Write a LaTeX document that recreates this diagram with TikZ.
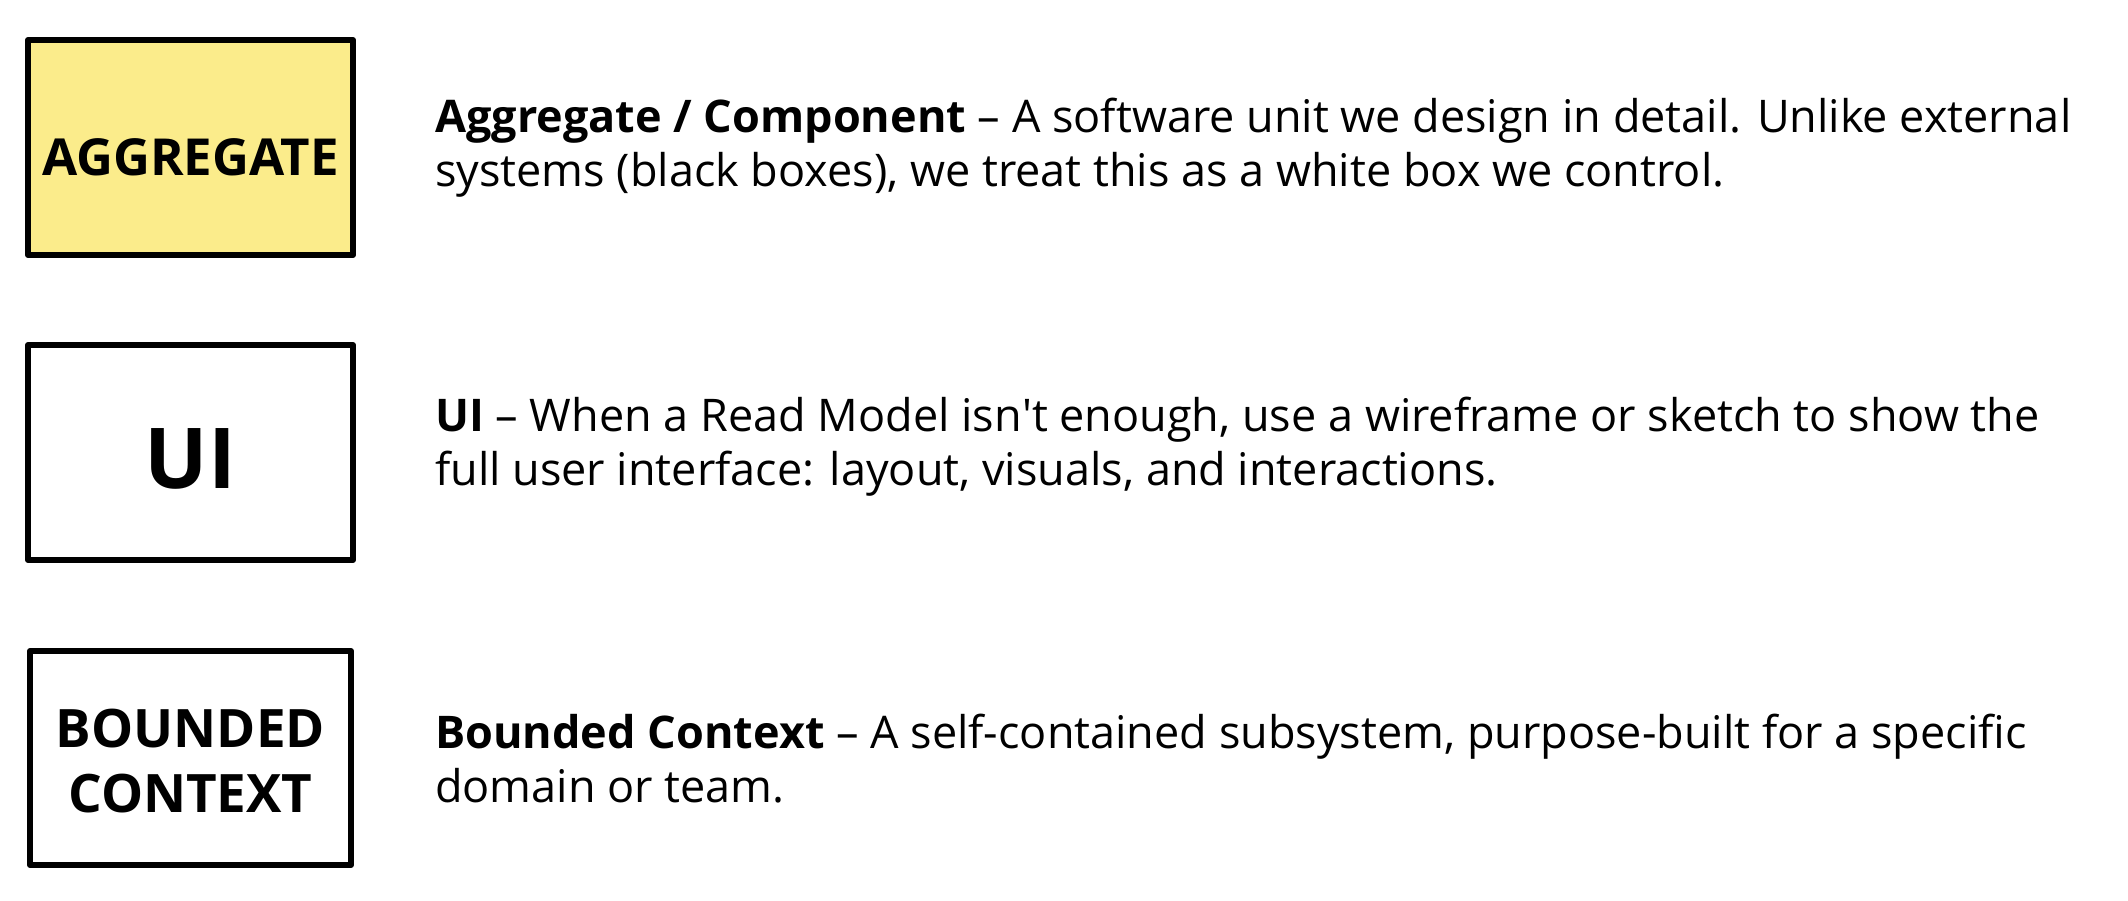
\documentclass[tikz,border=0pt]{standalone}
\usepackage{fontspec}
\setmainfont{Open Sans}
\usetikzlibrary{positioning}
\definecolor{aggyellow}{RGB}{251,236,139}

\begin{document}
\begin{tikzpicture}[x=1pt,y=-1pt,
 card/.style={draw=black,line width=6pt,line join=round,inner sep=0pt,minimum width=325pt,minimum height=215pt},
 cardtext/.style={inner sep=0pt,align=center,font=\bfseries\fontsize{51}{65}\selectfont},
 desc/.style={anchor=base west,inner sep=0pt,align=left,font=\fontsize{45}{54}\selectfont}]
 \useasboundingbox (0,0) rectangle (2128,900);
 \node[card,fill=aggyellow] (agg) at (190.5,147.5) {};
 \node[card] (ui) at (190.5,452.5) {};
 \node[card,minimum width=321pt,minimum height=214pt] (bc) at (190.5,758) {};
 \node[cardtext] (aggtext) at ([yshift=-10pt]agg.center) {AGGREGATE};
 \node[cardtext,font=\bfseries\fontsize{84}{90}\selectfont] (uitext) at ([yshift=-6pt]ui.center) {UI};
 \node[cardtext,font=\bfseries\fontsize{53}{65}\selectfont] (bctext) at ([yshift=-3pt]bc.center) {BOUNDED\\CONTEXT};
 \node[desc] (aggdesc) at (435,186) {\textbf{Aggregate / Component} – A software unit we design in detail. Unlike external\\systems (black boxes), we treat this as a white box we control.};
 \node[desc] (uidesc) at (435,485) {\textbf{UI} – When a Read Model isn\textquotesingle t enough, use a wireframe or sketch to show the\\full user interface: layout, visuals, and interactions.};
 \node[desc] (bcdesc) at (435,802) {\textbf{Bounded Context} – A self-contained subsystem, purpose-built for a specific\\domain or team.};
\end{tikzpicture}
\end{document}
